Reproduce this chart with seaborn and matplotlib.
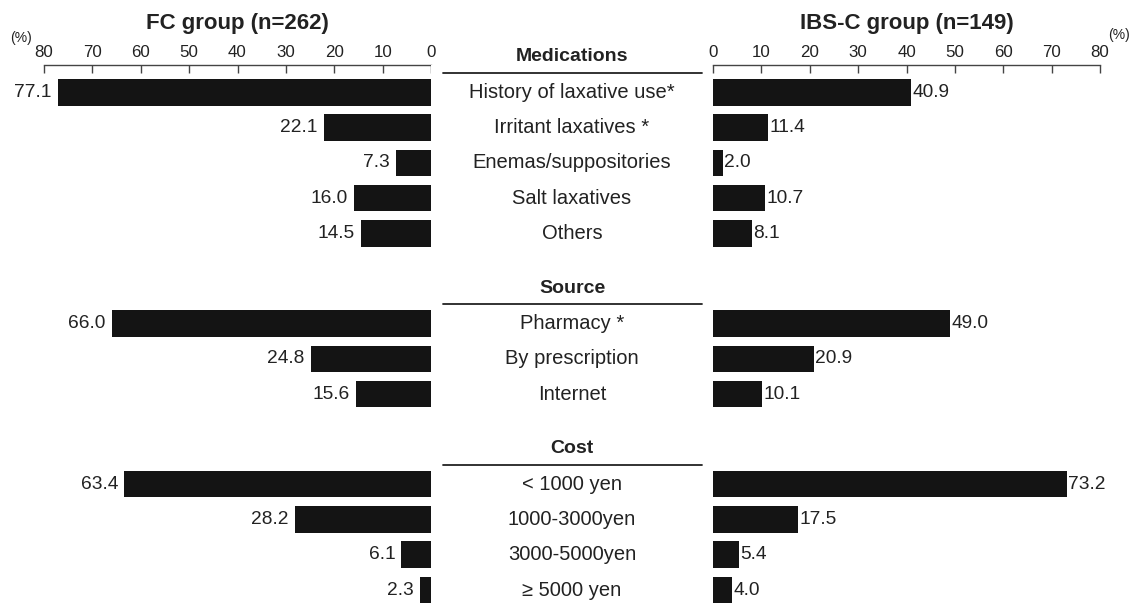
import numpy as np
import pandas as pd
import matplotlib
matplotlib.use("Agg")
import matplotlib.pyplot as plt
import seaborn as sns

# === Data ===
groups = ["Medications", "Source", "Cost"]
medication_items = ["History of laxative use*", "Irritant laxatives *", "Enemas/suppositories",
                    "Salt laxatives", "Others"]
source_items = ["Pharmacy *", "By prescription", "Internet"]
cost_items = ["< 1000 yen", "1000-3000yen", "3000-5000yen", "\u2265 5000 yen"]

fc_medications = [77.1, 22.1, 7.3, 16.0, 14.5]
fc_source = [66.0, 24.8, 15.6]
fc_cost = [63.4, 28.2, 6.1, 2.3]

ibs_medications = [40.9, 11.4, 2.0, 10.7, 8.1]
ibs_source = [49.0, 20.9, 10.1]
ibs_cost = [73.2, 17.5, 5.4, 4.0]

fc_title = "FC group (n=262)"
ibs_title = "IBS-C group (n=149)"
ticks = [0, 10, 20, 30, 40, 50, 60, 70, 80]

# === Build table with row positions (header row + items, gap between groups) ===
group_gap = 1.55
rows = []
headers = []
pos = 0.0
for name, items, fc, ibs in zip(groups,
                                [medication_items, source_items, cost_items],
                                [fc_medications, fc_source, fc_cost],
                                [ibs_medications, ibs_source, ibs_cost]):
    headers.append((name, pos))
    for i, (lab, a, b) in enumerate(zip(items, fc, ibs)):
        rows.append({"group": name, "label": lab, "fc": a, "ibs": b, "y": pos + 1 + i})
    pos = pos + len(items) + group_gap
df = pd.DataFrame(rows)

# === Plot ===
sns.set_style("white")
plt.rcParams["font.family"] = ["Liberation Sans", "DejaVu Sans"]

fig = plt.figure(figsize=(11.39, 6.08), dpi=100)
W, H = 1139, 608
top_px, bot_px = 65, 607.7
row_px = 35.3
y_top = (top_px - 57) / row_px
y_bot = (bot_px - 57) / row_px

def px_axes(x0, x1):
    return [x0 / W, 1 - bot_px / H, (x1 - x0) / W, (bot_px - top_px) / H]

ax_l = fig.add_axes(px_axes(44, 431))
ax_m = fig.add_axes(px_axes(431, 713))
ax_r = fig.add_axes(px_axes(713, 1100))

bar_color = "#141414"
sns.barplot(data=df, x="fc", y="y", orient="y", native_scale=True, color=bar_color,
            width=0.75, saturation=1, linewidth=0, ax=ax_l)
sns.barplot(data=df, x="ibs", y="y", orient="y", native_scale=True, color=bar_color,
            width=0.75, saturation=1, linewidth=0, ax=ax_r)

for ax in (ax_l, ax_r, ax_m):
    ax.set_ylim(y_bot, y_top)
    ax.set_xlabel("")
    ax.set_ylabel("")
    ax.set_yticks([])
    for s in ("left", "right", "bottom"):
        ax.spines[s].set_visible(False)

for ax in (ax_l, ax_r):
    ax.xaxis.tick_top()
    ax.set_xticks(ticks)
    ax.tick_params(axis="x", direction="in", length=5.5, width=1, color="#444444",
                   labelsize=12.2, pad=3.5, labelcolor="#222222")
    ax.spines["top"].set_color("#444444")
    ax.spines["top"].set_linewidth(1)

ax_l.set_xlim(80, 0)
ax_r.set_xlim(0, 80)

# value labels
for _, r in df.iterrows():
    ax_l.annotate(f"{r['fc']:.1f}", (r["fc"], r["y"]), xytext=(-4.5, 0), textcoords="offset points",
                  ha="right", va="center", fontsize=13.8, color="#222222")
    ax_r.annotate(f"{r['ibs']:.1f}", (r["ibs"], r["y"]), xytext=(1, 0), textcoords="offset points",
                  ha="left", va="center", fontsize=13.8, color="#222222")

# middle column
ax_m.spines["top"].set_visible(False)
ax_m.set_xticks([])
ax_m.set_xlim(0, 1)
for _, r in df.iterrows():
    ax_m.text(0.5, r["y"], r["label"], ha="center", va="center", fontsize=14.5, color="#222222")
for name, yh in headers:
    ax_m.text(0.5, yh, name, ha="center", va="center", fontsize=14, fontweight="bold",
              color="#222222", clip_on=False)
    ax_m.plot([0.043, 0.961], [yh + 0.45, yh + 0.45], color="#222222", lw=1.3, clip_on=False)

# titles
fig.text((44 + 431) / 2 / W, 1 - 23 / H, fc_title, ha="center", va="center",
         fontsize=16, fontweight="bold", color="#222222")
fig.text((713 + 1100) / 2 / W, 1 - 23 / H, ibs_title, ha="center", va="center",
         fontsize=16, fontweight="bold", color="#222222")
fig.text(21 / W, 1 - 38 / H, "(%)", ha="center", va="center", fontsize=10, color="#222222")
fig.text(1119 / W, 1 - 35 / H, "(%)", ha="center", va="center", fontsize=10, color="#222222")

fig.savefig("out.png", dpi=100)
